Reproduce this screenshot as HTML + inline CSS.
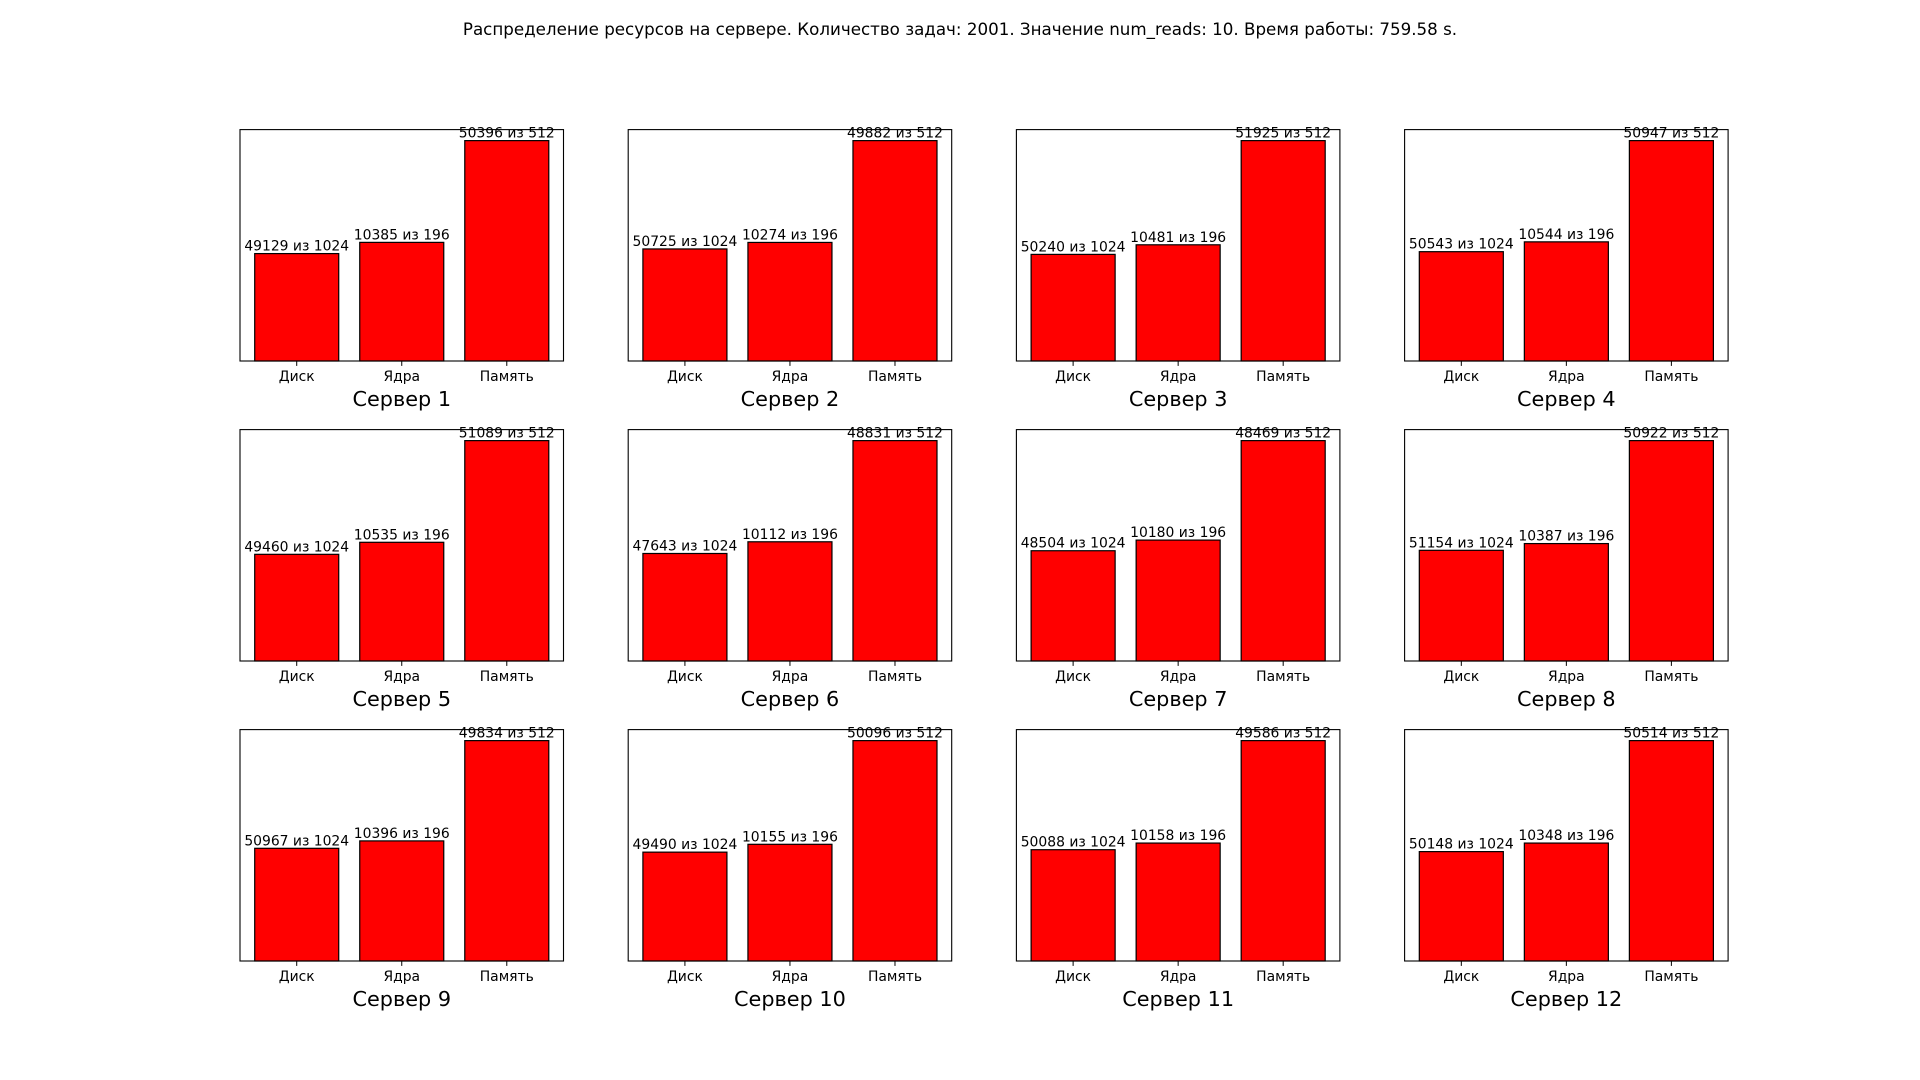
<!DOCTYPE html>
<html><head><meta charset="utf-8"><style>
html,body{margin:0;padding:0;background:#fff;}
svg{display:block;font-family:"DejaVu Sans","Liberation Sans",sans-serif;}
</style></head><body>
<svg id="fig" width="1920" height="1080" xmlns="http://www.w3.org/2000/svg">
<text x="960" y="35" text-anchor="middle" font-size="16.7">Распределение ресурсов на сервере. Количество задач: 2001. Значение num_reads: 10. Время работы: 759.58 s.</text>
</svg>
<script>
const categories = ["Диск", "Ядра", "Память"];
const capacities = [1024, 196, 512];
const diskUsed  = [49129, 50725, 50240, 50543, 49460, 47643, 48504, 51154, 50967, 49490, 50088, 50148];
const coresUsed = [10385, 10274, 10481, 10544, 10535, 10112, 10180, 10387, 10396, 10155, 10158, 10348];
const memUsed   = [50396, 49882, 51925, 50947, 51089, 48831, 48469, 50922, 49834, 50096, 49586, 50514];
const serverNames = ["Сервер 1","Сервер 2","Сервер 3","Сервер 4","Сервер 5","Сервер 6","Сервер 7","Сервер 8","Сервер 9","Сервер 10","Сервер 11","Сервер 12"];

const svg = document.getElementById('fig');
const NS = 'http://www.w3.org/2000/svg';
function mk(tag, attrs){ const e=document.createElementNS(NS,tag); for(const k in attrs) e.setAttribute(k,attrs[k]); svg.appendChild(e); return e; }

const AW = 323.5, AH = 231.4, GX = 64.7, GY = 68.6, X0 = 240, Y0 = 129.6;
for (let i = 0; i < 12; i++) {
  const r = Math.floor(i / 4), c = i % 4;
  const ax = X0 + c * (AW + GX), ay = Y0 + r * (AH + GY);
  const used = [diskUsed[i], coresUsed[i], memUsed[i]];
  const ratios = used.map((u, k) => u / capacities[k]);
  const ymax = Math.max(...ratios) * 1.05;
  const xs = v => ax + (v + 0.54) / 3.08 * AW;
  const ys = v => ay + AH - v / ymax * AH;
  for (let k = 0; k < 3; k++) {
    const x0 = xs(k - 0.4), x1 = xs(k + 0.4), yt = ys(ratios[k]);
    const bar = mk('rect', {x:x0, y:yt, width:x1-x0, height:ay+AH-yt, fill:'#ff0000', stroke:'#000', 'stroke-width':1.2});
    
    
    const lbl = mk('text', {x:xs(k), y:yt-3, 'text-anchor':'middle', 'font-size':13.9});
    lbl.textContent = used[k] + ' из ' + capacities[k];
    
    
    const tk = mk('line', {x1:xs(k), x2:xs(k), y1:ay+AH, y2:ay+AH+4.9, stroke:'#000', 'stroke-width':1});
    
    
    const tl = mk('text', {x:xs(k), y:ay+AH+20, 'text-anchor':'middle', 'font-size':13.9});
    tl.textContent = categories[k];
    
    
  }
  const frame = mk('rect', {x:ax, y:ay, width:AW, height:AH, fill:'none', stroke:'#000', 'stroke-width':1.1});
  
  
  const xl = mk('text', {x:ax+AW/2, y:ay+AH+45, 'text-anchor':'middle', 'font-size':20.8});
  xl.textContent = serverNames[i];
  
  
}
</script>
</body></html>
